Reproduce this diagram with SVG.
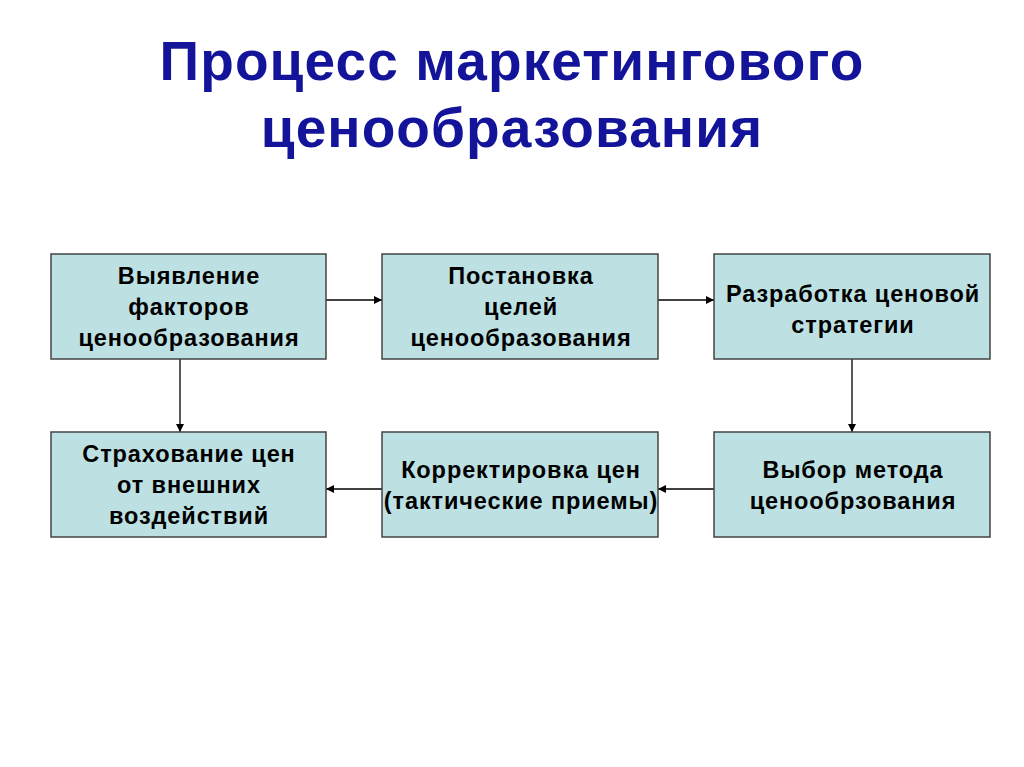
<svg xmlns="http://www.w3.org/2000/svg" width="1024" height="767" viewBox="0 0 1024 767">
<style>
.box{fill:#bde0e3;stroke:#444;stroke-width:1.5}
.t{font-family:"Liberation Sans",Arial,sans-serif;font-weight:bold;font-size:23.5px;letter-spacing:0.9px;fill:#000;text-anchor:middle}
.title{font-family:"Liberation Sans",Arial,sans-serif;font-weight:bold;font-size:55px;letter-spacing:1.1px;fill:#14149a;text-anchor:middle}
.c{stroke:#000;stroke-width:1.3;fill:none;marker-end:url(#ah)}
</style>
<defs>
<marker id="ah" viewBox="0 0 10 10" refX="10" refY="5" markerWidth="8" markerHeight="8" markerUnits="userSpaceOnUse" orient="auto">
<path d="M0,0 L10,5 L0,10 z" fill="#000"/>
</marker>
</defs>
<rect width="1024" height="767" fill="#fff"/>
<text class="title" x="512" y="80">Процесс маркетингового</text>
<text class="title" x="512" y="147">ценообразования</text>
<g id="connectors">
<line class="c" x1="326" y1="300" x2="382" y2="300"/>
<line class="c" x1="658" y1="300" x2="714" y2="300"/>
<line class="c" x1="852" y1="359" x2="852" y2="432"/>
<line class="c" x1="180" y1="359" x2="180" y2="432"/>
<line class="c" x1="714" y1="489" x2="658" y2="489"/>
<line class="c" x1="382" y1="489" x2="326" y2="489"/>
</g>
<g id="n1"><rect class="box" x="51" y="254" width="275" height="105"/>
<text class="t" x="189" y="284">Выявление</text><text class="t" x="189" y="315">факторов</text><text class="t" x="189" y="346">ценообразования</text></g>
<g id="n2"><rect class="box" x="382" y="254" width="276" height="105"/>
<text class="t" x="521" y="284">Постановка</text><text class="t" x="521" y="315">целей</text><text class="t" x="521" y="346">ценообразования</text></g>
<g id="n3"><rect class="box" x="714" y="254" width="276" height="105"/>
<text class="t" x="853" y="302">Разработка ценовой</text><text class="t" x="853" y="333">стратегии</text></g>
<g id="n4"><rect class="box" x="51" y="432" width="275" height="105"/>
<text class="t" x="189" y="462">Страхование цен</text><text class="t" x="189" y="493">от внешних</text><text class="t" x="189" y="524">воздействий</text></g>
<g id="n5"><rect class="box" x="382" y="432" width="276" height="105"/>
<text class="t" x="521" y="478">Корректировка цен</text><text class="t" x="521" y="509">(тактические приемы)</text></g>
<g id="n6"><rect class="box" x="714" y="432" width="276" height="105"/>
<text class="t" x="853" y="478">Выбор метода</text><text class="t" x="853" y="509">ценообрзования</text></g>
</svg>
